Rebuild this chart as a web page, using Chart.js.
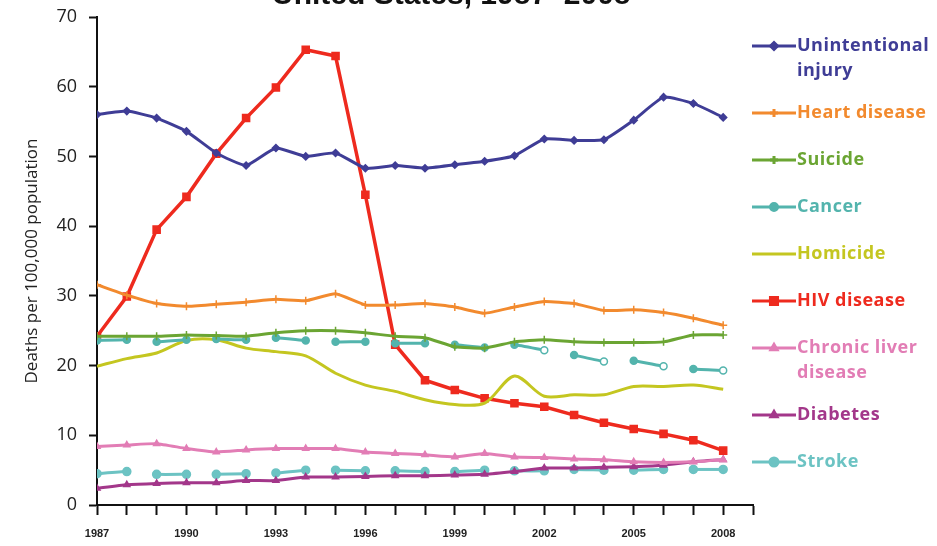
<!DOCTYPE html>
<html>
<head>
<meta charset="utf-8">
<script src="https://cdn.jsdelivr.net/npm/chart.js@4.4.1/dist/chart.umd.min.js"></script>
<style>
  html, body { margin: 0; padding: 0; background: #fff; }
  #wrap { width: 937px; height: 546px; }
</style>
</head>
<body>
<div id="wrap"><canvas id="deaths-chart" width="937" height="546"></canvas></div>
<script>
const years = [1987, 1988, 1989, 1990, 1991, 1992, 1993, 1994, 1995, 1996, 1997,
  1998, 1999, 2000, 2001, 2002, 2003, 2004, 2005, 2006, 2007, 2008];
const labelYears = [1987, 1990, 1993, 1996, 1999, 2002, 2005, 2008];

const injury = [56.0, 56.5, 55.5, 53.6, 50.5, 48.7, 51.2, 50.0, 50.5, 48.3, 48.7,
  48.3, 48.8, 49.3, 50.1, 52.5, 52.3, 52.4, 55.2, 58.5, 57.6, 55.6];
const heart = [31.6, 30.1, 28.9, 28.5, 28.8, 29.1, 29.5, 29.3, 30.3, 28.7, 28.7,
  28.9, 28.4, 27.5, 28.4, 29.2, 28.9, 27.9, 28.0, 27.6, 26.8, 25.8];
const suicide = [24.2, 24.2, 24.2, 24.4, 24.3, 24.2, 24.7, 25.0, 25.0, 24.7, 24.2,
  24.0, 22.7, 22.5, 23.4, 23.7, 23.4, 23.3, 23.3, 23.4, 24.4, 24.4];
const cancer = [23.6, 23.7, 23.4, 23.7, 23.8, 23.7, 24.0, 23.6, 23.4, 23.4, 23.2,
  23.2, 23.0, 22.6, 23.0, 22.2, 21.5, 20.6, 20.7, 19.9, 19.5, 19.3];
const homicide = [19.9, 21.0, 21.8, 23.6, 23.7, 22.5, 22.0, 21.4, 18.9, 17.2, 16.3,
  15.1, 14.4, 14.6, 18.5, 15.6, 15.8, 15.8, 17.0, 17.0, 17.2, 16.6];
const hiv = [24.2, 29.9, 39.5, 44.2, 50.4, 55.5, 59.9, 65.3, 64.4, 44.5, 23.0,
  17.9, 16.5, 15.3, 14.6, 14.1, 12.9, 11.8, 10.9, 10.2, 9.3, 7.8];
const liver = [8.4, 8.6, 8.8, 8.1, 7.6, 7.9, 8.1, 8.1, 8.1, 7.6, 7.4,
  7.2, 6.9, 7.4, 6.9, 6.8, 6.6, 6.5, 6.2, 6.1, 6.2, 6.5];
const diabetes = [2.4, 2.9, 3.1, 3.2, 3.2, 3.5, 3.5, 4.0, 4.0, 4.1, 4.2,
  4.2, 4.3, 4.4, 4.8, 5.3, 5.3, 5.4, 5.5, 5.7, 6.2, 6.5];
const stroke = [4.5, 4.8, 4.4, 4.4, 4.4, 4.5, 4.6, 5.0, 5.0, 4.9, 4.9,
  4.8, 4.8, 5.0, 4.9, 4.9, 5.1, 5.0, 5.0, 5.1, 5.1, 5.1];

const toPoints = (vals) => years.map((yr, i) => ({ x: yr, y: vals[i] }));

// cancer and stroke are drawn as "o-o  o-o" (every other segment left out)
const pairedSegments = (color) => ({
  borderColor: (ctx) => (ctx.p0DataIndex % 2 ? "rgba(0,0,0,0)" : color),
});

function series(label, vals, color, extra) {
  return Object.assign({
    label,
    data: toPoints(vals),
    borderColor: color,
    backgroundColor: color,
    pointBackgroundColor: color,
    pointBorderColor: color,
    borderWidth: 3,
    pointRadius: 3.5,
    pointBorderWidth: 1.5,
    tension: 0.15,
  }, extra);
}

const datasets = [
  series("Unintentional\ninjury", injury, "#3f3d96", { pointStyle: "rectRot" }),
  series("Heart disease", heart, "#f28a2e", { pointStyle: "cross", pointRadius: 4 }),
  series("Suicide", suicide, "#6ba533", { pointStyle: "cross", pointRadius: 4 }),
  series("Cancer", cancer, "#53b4ad", {
    pointStyle: "circle",
    segment: pairedSegments("#53b4ad"),
    pointBackgroundColor: (ctx) => (ctx.dataIndex >= 15 && ctx.dataIndex % 2 ? "#fff" : "#53b4ad"),
  }),
  series("Homicide", homicide, "#c4c620", { pointRadius: 0, tension: 0.3 }),
  series("HIV disease", hiv, "#ee2a1e", { pointStyle: "rect", pointRadius: 5, borderWidth: 3.5, tension: 0 }),
  series("Chronic liver\ndisease", liver, "#e27db5", { pointStyle: "triangle" }),
  series("Diabetes", diabetes, "#a3378a", { pointStyle: "triangle" }),
  series("Stroke", stroke, "#6cc3c3", { pointStyle: "circle", pointRadius: 4, segment: pairedSegments("#6cc3c3") }),
];

const legendPlugin = {
  id: "sideLegend",
  afterDraw(chart) {
    const ctx = chart.ctx;
    let y = 46;
    ctx.save();
    chart.data.datasets.forEach((ds) => {
      const lines = ds.label.split("\n");
      ctx.strokeStyle = ds.borderColor;
      ctx.lineWidth = 3;
      ctx.beginPath();
      ctx.moveTo(752, y);
      ctx.lineTo(796, y);
      ctx.stroke();
      if (ds.pointRadius > 0) {
        ctx.fillStyle = ds.borderColor;
        Chart.helpers.drawPoint(ctx, { pointStyle: ds.pointStyle, radius: ds.pointRadius, rotation: 0, borderWidth: 1.5 }, 774, y);
      }
      ctx.fillStyle = ds.borderColor;
      ctx.font = "bold 18px 'Open Sans'";
      ctx.letterSpacing = "0.5px";
      ctx.textBaseline = "middle";
      ctx.textAlign = "left";
      lines.forEach((ln, k) => ctx.fillText(ln, 797, y + k * 25));
      y += 47 + (lines.length - 1) * 20;
    });
    ctx.restore();
  },
};

const titlePlugin = {
  id: "cutTitle",
  afterDraw(chart) {
    const ctx = chart.ctx;
    ctx.save();
    ctx.fillStyle = "#111";
    ctx.font = "bold 30px 'Liberation Sans'";
    ctx.textBaseline = "alphabetic";
    ctx.textAlign = "left";
    ctx.fillText("United States, 1987–2008", 272, 4);
    ctx.restore();
  },
};

const canvaEl = document.getElementById("deaths-chart");
const deathsChart = new Chart(canvaEl, {
  type: "line",
  data: { datasets },
  plugins: [legendPlugin, titlePlugin],
  options: {
    responsive: false,
    devicePixelRatio: 1,
    animation: false,
    layout: { padding: { top: 17, right: 184, left: 0, bottom: 0 } },
    plugins: { legend: { display: false }, tooltip: { enabled: false } },
    scales: {
      x: {
        type: "linear",
        min: 1987,
        max: 2009,
        afterFit: (scale) => { scale.height = 41; },
        border: { color: "#111", width: 2 },
        grid: { drawOnChartArea: false, tickLength: 10, tickColor: "#111", tickWidth: 2 },
        ticks: {
          stepSize: 1,
          autoSkip: false,
          maxRotation: 0,
          padding: 12,
          color: "#222",
          font: { family: "'Liberation Sans'", size: 11, weight: "bold" },
          callback: (v) => (labelYears.includes(v) ? String(v) : ""),
        },
      },
      y: {
        min: 0,
        max: 70,
        afterFit: (scale) => {
          scale.width = 97;
          scale.paddingTop = 0;
          scale.paddingBottom = 0;
        },
        border: { color: "#111", width: 2 },
        grid: { drawOnChartArea: false, tickLength: 8, tickColor: "#111", tickWidth: 2 },
        ticks: {
          stepSize: 10,
          padding: 12,
          color: "#222",
          font: { family: "'Open Sans'", size: 18 },
        },
        title: {
          display: true,
          text: "Deaths per 100,000 population",
          color: "#222",
          font: { family: "'Open Sans'", size: 17 },
          padding: { top: 22, bottom: 0 },
        },
      },
    },
  },
});
</script>
</body>
</html>
